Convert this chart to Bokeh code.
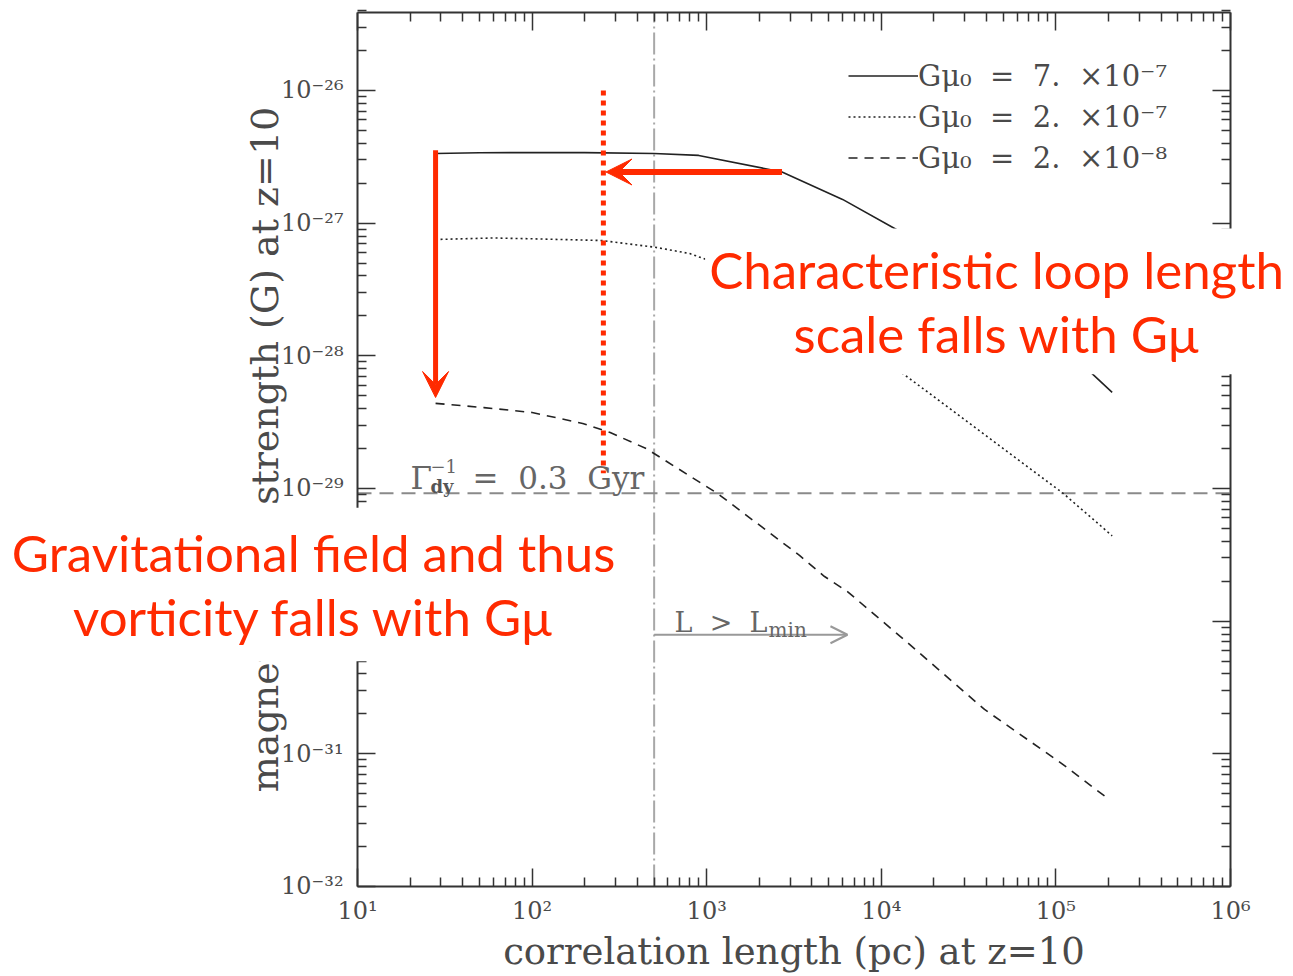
import numpy as np
from bokeh.plotting import figure
from bokeh.models import (Arrow, VeeHead, OpenHead, Label, Legend, LegendItem,
                          LogAxis, FixedTicker, CustomJSTickFormatter, Range1d)
from bokeh.embed import file_html
from bokeh.resources import INLINE

# ---------------- data ----------------
# G mu_0 = 7e-7 (solid)
x_solid = [28, 50, 100, 200, 500, 900, 2700, 6000, 12500, 25000, 50000, 100000, 160000, 210000]
y_solid = [3.35e-27, 3.39e-27, 3.41e-27, 3.40e-27, 3.35e-27, 3.24e-27, 2.43e-27, 1.51e-27,
           8.8e-28, 4.7e-28, 2.4e-28, 1.23e-28, 7.4e-29, 5.3e-29]
# G mu_0 = 2e-7 (dotted)
x_dot = [28, 60, 100, 250, 500, 800, 2000, 5000, 13200, 110000, 210000]
y_dot = [7.53e-28, 7.73e-28, 7.62e-28, 7.40e-28, 6.6e-28, 5.9e-28, 3.8e-28, 1.78e-28,
         7.4e-29, 9.2e-30, 4.4e-30]
# G mu_0 = 2e-8 (dashed)
x_dash = [28, 53, 100, 195, 280, 450, 1150, 3400, 4730, 6400, 14300, 39000, 108000, 203000]
y_dash = [4.38e-29, 4.07e-29, 3.74e-29, 3.09e-29, 2.64e-29, 2.0e-29, 9.2e-30, 3.13e-30,
          2.17e-30, 1.67e-30, 6.8e-31, 2.16e-31, 8.45e-32, 4.5e-32]

NB = "\u00a0"
series_labels = [f"Gμ₀{NB}{NB}={NB}{NB}7.{NB}{NB}×10⁻⁷",
                 f"Gμ₀{NB}{NB}={NB}{NB}2.{NB}{NB}×10⁻⁷",
                 f"Gμ₀{NB}{NB}={NB}{NB}2.{NB}{NB}×10⁻⁸"]

L_min = 500            # pc, vertical dash-dot line
B_dyn = 9.2e-30        # G, horizontal dashed line (Gamma_dy^-1 = 0.3 Gyr)
L_char = 256           # pc, red dotted line
L_arrow_end = 6400     # pc, end of the "L > L_min" arrow
L_arrow_y = 7.9e-31

x_ticks = [1e1, 1e2, 1e3, 1e4, 1e5, 1e6]
y_ticks = [1e-32, 1e-31, 1e-30, 1e-29, 1e-28, 1e-27, 1e-26]

x_minor = [k * 10.0 ** e for e in range(1, 6) for k in range(2, 10)]
y_minor = [k * 10.0 ** e for e in range(-32, -25) for k in range(2, 10)]

X_MIN, X_MAX = 1e1, 1e6
Y_MIN, Y_MAX = 1e-32, 10 ** -25.4123

# ---------------- figure ----------------
AX = "#333333"
TXT = "#4a4a4a"
GREYTXT = "#666666"
SERIF = "DejaVu Serif"
RED = "#ff2a00"

# the frame fills the whole canvas; the axes are pinned to the plot box
p = figure(width=1293, height=976, x_axis_type="log", y_axis_type="log",
           x_range=Range1d(10 ** -1.04467, 10 ** 6.36082),
           y_range=Range1d(10 ** -32.6784, 10 ** -25.3218),
           x_axis_location=None, y_axis_location=None,
           output_backend="svg", toolbar_location=None, min_border=0)
p.grid.visible = False
p.outline_line_color = None
p.background_fill_color = "white"
p.border_fill_color = "white"

sup_code = """
const sup = {"-":"⁻","0":"⁰","1":"¹","2":"²","3":"³","4":"⁴","5":"⁵","6":"⁶","7":"⁷","8":"⁸","9":"⁹"};
const e = Math.round(Math.log10(tick));
return "10" + String(e).split("").map(c => sup[c]).join("");
"""

def make_axis(ticks, minor, loc, bounds, labels=True, axis_label=None, label_size="37px"):
    ax = LogAxis(fixed_location=loc, bounds=bounds)
    ax.ticker = FixedTicker(ticks=ticks, minor_ticks=minor)
    ax.axis_line_color = AX
    ax.axis_line_width = 2
    ax.major_tick_line_color = AX
    ax.minor_tick_line_color = AX
    ax.major_tick_line_width = 1.5
    ax.minor_tick_line_width = 1.5
    ax.major_tick_in = 18
    ax.major_tick_out = 0
    ax.minor_tick_in = 9
    ax.minor_tick_out = 0
    if labels:
        ax.formatter = CustomJSTickFormatter(code=sup_code)
        ax.major_label_text_font = SERIF
        ax.major_label_text_font_size = "24px"
        ax.major_label_text_color = TXT
        ax.axis_label = axis_label
        ax.axis_label_text_font = SERIF
        ax.axis_label_text_font_size = label_size
        ax.axis_label_text_font_style = "normal"
        ax.axis_label_text_color = TXT
    else:
        ax.formatter = CustomJSTickFormatter(code="return '';")
        ax.major_label_text_font_size = "0px"
        ax.major_label_standoff = 0
    return ax

xb = make_axis(x_ticks, x_minor, Y_MIN, (X_MIN, X_MAX), True,
               "correlation length (pc) at z=10", "37px")
xb.major_label_standoff = 11
xb.axis_label_standoff = 1
yl = make_axis(y_ticks, y_minor, X_MIN, (Y_MIN, Y_MAX), True,
               "magnetic field strength (G) at z=10", "38px")
yl.major_label_standoff = 14
yl.axis_label_standoff = -9
xt = make_axis(x_ticks, x_minor, Y_MAX, (X_MIN, X_MAX), False)
yr = make_axis(y_ticks, y_minor, X_MAX, (Y_MIN, Y_MAX), False)
p.add_layout(xb, "below")
p.add_layout(yl, "left")
p.add_layout(xt, "above")
p.add_layout(yr, "right")

# ---------------- reference lines ----------------
p.line([L_min, L_min], [Y_MIN, Y_MAX], line_color="#a8a8a8", line_width=2, line_dash="22 4 2 4")
p.line([X_MIN, X_MAX], [B_dyn, B_dyn], line_color="#8a8a8a", line_width=2, line_dash="14 8")

# ---------------- curves ----------------
CURVE = "#222222"
r1 = p.line(x_solid, y_solid, line_color=CURVE, line_width=1.6)
r2 = p.line(x_dot, y_dot, line_color=CURVE, line_width=1.6, line_dash="2 3")
r3 = p.line(x_dash, y_dash, line_color=CURVE, line_width=1.6, line_dash="9 7")

legend = Legend(items=[LegendItem(label=series_labels[0], renderers=[r1]),
                       LegendItem(label=series_labels[1], renderers=[r2]),
                       LegendItem(label=series_labels[2], renderers=[r3])],
                location=(848, 798), glyph_width=70, glyph_height=41, label_height=41,
                spacing=0, padding=0, margin=0, label_standoff=0,
                label_text_font=SERIF, label_text_font_size="29px", label_text_color=TXT,
                border_line_color=None, background_fill_alpha=0)
p.add_layout(legend)

# ---------------- grey annotations ----------------
p.add_layout(Arrow(x_start=L_min, y_start=L_arrow_y, x_end=L_arrow_end, y_end=L_arrow_y,
                   line_color="#999999", line_width=2,
                   end=OpenHead(size=17, line_color="#999999", line_width=2)))

p.add_layout(Label(x=655, y=9.77e-31, text=f"L{NB}{NB}>{NB}{NB}L", text_font=SERIF,
                   text_font_size="27px", text_color=GREYTXT, text_baseline="alphabetic"))
p.add_layout(Label(x=2260, y=8.6e-31, text="min", text_font=SERIF,
                   text_font_size="20px", text_color=GREYTXT, text_baseline="alphabetic"))

p.add_layout(Label(x=20.1, y=1.21e-29, text="Γ", text_font=SERIF,
                   text_font_size="31px", text_color=GREYTXT, text_baseline="alphabetic"))
p.add_layout(Label(x=26.2, y=1.49e-29, text="−1", text_font=SERIF,
                   text_font_size="18px", text_color=GREYTXT, text_baseline="alphabetic"))
p.add_layout(Label(x=26.2, y=1.035e-29, text="dy", text_font=SERIF,
                   text_font_size="18px", text_color="#555555", text_baseline="alphabetic",
                   text_font_style="bold"))
p.add_layout(Label(x=45.6, y=1.21e-29, text=f"={NB}{NB}0.3{NB}{NB}Gyr", text_font=SERIF,
                   text_font_size="31px", text_color=GREYTXT, text_baseline="alphabetic"))

# ---------------- red annotations ----------------
p.line([L_char, L_char], [1e-26, 1.3e-29], line_color=RED, line_width=5, line_dash="5 5")

p.add_layout(Arrow(x_start=x_solid[0], y_start=3.55e-27, x_end=x_solid[0], y_end=4.85e-29,
                   line_color=RED, line_width=5,
                   end=VeeHead(size=26, fill_color=RED, line_color=RED)))
p.add_layout(Arrow(x_start=x_solid[6], y_start=y_solid[6], x_end=265, y_end=y_solid[6],
                   line_color=RED, line_width=6,
                   end=VeeHead(size=26, fill_color=RED, line_color=RED)))

p.add_layout(Label(x=45700, y=2.57e-28, text="Characteristic loop length\nscale falls with Gμ",
                   text_align="center", text_baseline="middle", text_font="Lato",
                   text_font_size="51px", text_color=RED, text_line_height=1.06,
                   background_fill_color="white", padding=(4, 10)))
p.add_layout(Label(x=5.6, y=1.889e-30, text="Gravitational field and thus\nvorticity falls with Gμ",
                   text_align="center", text_baseline="middle", text_font="Lato",
                   text_font_size="51px", text_color=RED, text_line_height=1.06,
                   background_fill_color="white", padding=(2, 14)))

open("out.html", "w").write(file_html(p, INLINE))
